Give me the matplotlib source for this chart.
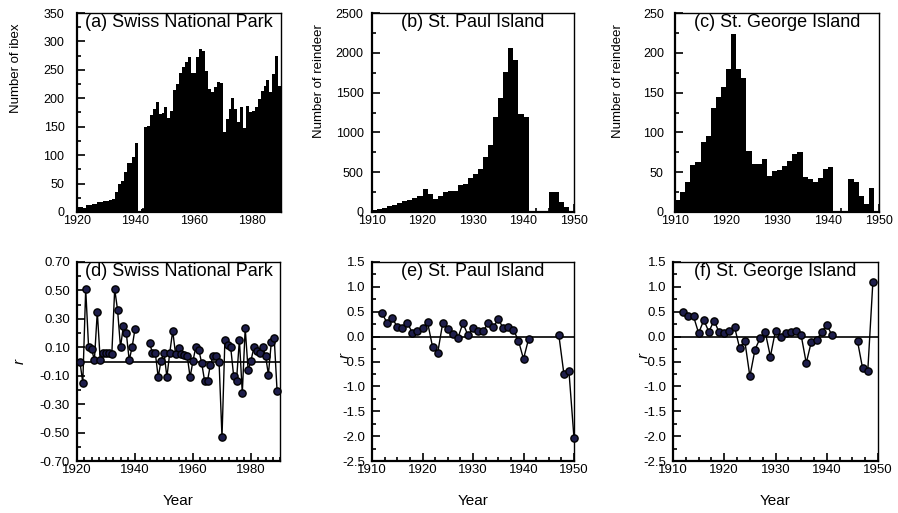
import matplotlib
matplotlib.use("Agg")
import matplotlib.pyplot as plt
from matplotlib.ticker import MultipleLocator, FormatStrFormatter

plt.rcParams['font.family'] = ['Liberation Sans', 'DejaVu Sans']
plt.rcParams['axes.unicode_minus'] = False

# --- counts (bars) ---
ibex_years = list(range(1920, 1990))
ibex_counts = [8, 8, 7, 12, 13, 14, 14, 18, 18, 19,
               20, 21, 22, 35, 50, 55, 71, 86, 87, 96,
               121, 0, 5,
               150, 152, 171, 182, 193, 173, 174, 185, 166, 177,
               215, 226, 245, 255, 264, 272, 244, 245, 272, 287,
               284, 248, 216, 211, 220, 229, 227, 140, 163, 182,
               201, 182, 159, 185, 148, 187, 176, 177, 185, 199,
               212, 222, 232, 211, 242, 274, 221]

paul_years = list(range(1911, 1951))
paul_counts = [25, 40, 52, 75, 92, 110, 143, 155, 175, 207,
               289, 226, 167, 205, 247, 260, 260, 343, 356, 427,
               481, 540, 691, 837, 1193, 1432, 1763, 2056, 1914, 1235,
               1189, 0, 0, 0, 0, 251, 255, 126, 62, 8]

george_years = list(range(1911, 1950))
george_counts = [15, 25, 38, 59, 63, 88, 96, 131, 145, 157,
                 180, 223, 180, 168, 77, 60, 60, 66, 45, 51,
                 53, 58, 64, 73, 75, 44, 41, 38, 43, 54,
                 56, 0, 0, 0, 41, 38, 20, 10, 30]

# --- growth rates r ---
ibex_r_years = list(range(1921, 1941)) + list(range(1945, 1990))
ibex_r = [0.00, -0.15, 0.51, 0.10, 0.09, 0.01, 0.35, 0.01, 0.06, 0.06,
          0.06, 0.05, 0.51, 0.36, 0.10, 0.25, 0.20, 0.01, 0.10, 0.23,
          0.13, 0.063, 0.06, -0.11, 0.007, 0.063, -0.11, 0.063, 0.216, 0.05,
          0.094, 0.05, 0.045, 0.04, -0.11, 0.005, 0.105, 0.082, -0.012, -0.136,
          -0.136, -0.023, 0.04, 0.04, -0.007, -0.533, 0.153, 0.113, 0.099, -0.099,
          -0.134, 0.153, -0.223, 0.235, -0.059, 0.007, 0.099, 0.075, 0.063, 0.105,
          0.042, -0.092, 0.136, 0.167, -0.211]

paul_r_years = list(range(1912, 1942)) + [1947, 1948, 1949, 1950]
paul_r = [0.47, 0.27, 0.37, 0.20, 0.17, 0.27, 0.08, 0.12, 0.17, 0.29,
          -0.21, -0.33, 0.27, 0.15, 0.05, -0.03, 0.27, 0.03, 0.17, 0.11,
          0.11, 0.27, 0.19, 0.35, 0.17, 0.20, 0.14, -0.08, -0.45, -0.05,
          0.03, -0.75, -0.70, -2.04]

george_r_years = list(range(1912, 1942)) + [1946, 1947, 1948, 1949]
george_r = [0.50, 0.41, 0.41, 0.07, 0.33, 0.10, 0.32, 0.09, 0.07, 0.12,
            0.20, -0.23, -0.08, -0.80, -0.26, -0.03, 0.09, -0.40, 0.12, -0.01,
            0.07, 0.09, 0.12, 0.03, -0.53, -0.10, -0.07, 0.09, 0.24, 0.03,
            -0.09, -0.64, -0.70, 1.10]

W, H = 898, 513
fig = plt.figure(figsize=(W / 100, H / 100), dpi=100)


def box(l, r, t, b):
    return [l / W, 1 - b / H, (r - l) / W, (b - t) / H]


def style(ax, xmaj, xmin, ymaj, ymin, size, ypad):
    for s in ['left', 'bottom']:
        ax.spines[s].set_linewidth(1.6)
    for s in ['top', 'right']:
        ax.spines[s].set_linewidth(1.0)
    ax.xaxis.set_major_locator(MultipleLocator(xmaj))
    ax.xaxis.set_minor_locator(MultipleLocator(xmin))
    ax.yaxis.set_major_locator(MultipleLocator(ymaj))
    ax.yaxis.set_minor_locator(MultipleLocator(ymin))
    ax.tick_params(which='both', direction='in', top=False, right=False,
                   labelsize=size, width=1.2)
    ax.tick_params(axis='x', pad=2)
    ax.tick_params(axis='y', pad=ypad)
    ax.tick_params(which='major', length=6)
    ax.tick_params(which='minor', length=3)


def title(ax, txt):
    ax.text(0.5, 0.995, txt, transform=ax.transAxes, ha='center', va='top',
            fontsize=13)


marker_kw = dict(color='black', lw=1.0, marker='o', markersize=5.2,
                 markerfacecolor='#1e1e4b', markeredgecolor='black',
                 markeredgewidth=1.0, clip_on=False, zorder=3)

# ---- top row: counts ----
ax_a = fig.add_axes(box(77, 281, 13, 212))
ax_a.bar(ibex_years, ibex_counts, width=1.0, align='edge', color='black',
         linewidth=0)
ax_a.set_xlim(1920, 1990)
ax_a.set_ylim(0, 350)
style(ax_a, 20, 2.5, 50, 25, 9, 9)
title(ax_a, '(a) Swiss National Park')
ax_a.set_ylabel('Number of ibex', fontsize=9.5)
ax_a.yaxis.set_label_coords(-0.27, 0.72)

ax_b = fig.add_axes(box(372, 574, 13, 212))
ax_b.bar(paul_years, paul_counts, width=-1.0, align='edge', color='black',
         linewidth=0)
ax_b.set_xlim(1910, 1950)
ax_b.set_ylim(0, 2500)
style(ax_b, 10, 2.5, 500, 250, 9, 6)
title(ax_b, '(b) St. Paul Island')
ax_b.set_ylabel('Number of reindeer', fontsize=9.5)
ax_b.yaxis.set_label_coords(-0.235, 0.66)

ax_c = fig.add_axes(box(675, 879, 13, 212))
ax_c.bar(george_years, george_counts, width=-1.0, align='edge', color='black',
         linewidth=0)
ax_c.set_xlim(1910, 1950)
ax_c.set_ylim(0, 250)
style(ax_c, 10, 2.5, 50, 25, 9, 8)
title(ax_c, '(c) St. George Island')
ax_c.set_ylabel('Number of reindeer', fontsize=9.5)
ax_c.yaxis.set_label_coords(-0.25, 0.66)

# ---- bottom row: r ----
ax_d = fig.add_axes(box(77, 280, 262, 461))
ax_d.axhline(0, color='black', lw=1.2, zorder=1)
ax_d.plot(ibex_r_years[:20], ibex_r[:20], **marker_kw)
ax_d.plot(ibex_r_years[20:], ibex_r[20:], **marker_kw)
ax_d.set_xlim(1920, 1990)
ax_d.set_ylim(-0.7, 0.7)
style(ax_d, 20, 2.5, 0.2, 0.1, 9.5, 5)
ax_d.set_yticks([-0.7, -0.5, -0.3, -0.1, 0.1, 0.3, 0.5, 0.7])
ax_d.yaxis.set_major_formatter(FormatStrFormatter('%.2f'))
title(ax_d, '(d) Swiss National Park')
ax_d.set_ylabel('r', fontsize=11, style='italic')
ax_d.yaxis.set_label_coords(-0.25, 0.5)
ax_d.set_xlabel('Year', fontsize=11)
ax_d.xaxis.set_label_coords(0.5, -0.165)

ax_e = fig.add_axes(box(372, 574, 262, 461))
ax_e.axhline(0, color='black', lw=1.2, zorder=1)
ax_e.plot(paul_r_years[:30], paul_r[:30], **marker_kw)
ax_e.plot(paul_r_years[30:], paul_r[30:], **marker_kw)
ax_e.set_xlim(1910, 1950)
ax_e.set_ylim(-2.5, 1.5)
style(ax_e, 10, 2.5, 0.5, 0.25, 9.5, 5)
ax_e.yaxis.set_major_formatter(FormatStrFormatter('%.1f'))
title(ax_e, '(e) St. Paul Island')
ax_e.set_ylabel('r', fontsize=11, style='italic')
ax_e.yaxis.set_label_coords(-0.10, 0.53)
ax_e.set_xlabel('Year', fontsize=11)
ax_e.xaxis.set_label_coords(0.5, -0.165)

ax_f = fig.add_axes(box(673, 878, 262, 461))
ax_f.axhline(0, color='black', lw=1.2, zorder=1)
ax_f.plot(george_r_years[:30], george_r[:30], **marker_kw)
ax_f.plot(george_r_years[30:], george_r[30:], **marker_kw)
ax_f.set_xlim(1910, 1950)
ax_f.set_ylim(-2.5, 1.5)
style(ax_f, 10, 2.5, 0.5, 0.25, 9.5, 5)
ax_f.yaxis.set_major_formatter(FormatStrFormatter('%.1f'))
title(ax_f, '(f) St. George Island')
ax_f.set_ylabel('r', fontsize=11, style='italic')
ax_f.yaxis.set_label_coords(-0.11, 0.53)
ax_f.set_xlabel('Year', fontsize=11)
ax_f.xaxis.set_label_coords(0.5, -0.165)

fig.savefig('out.png', dpi=100)
